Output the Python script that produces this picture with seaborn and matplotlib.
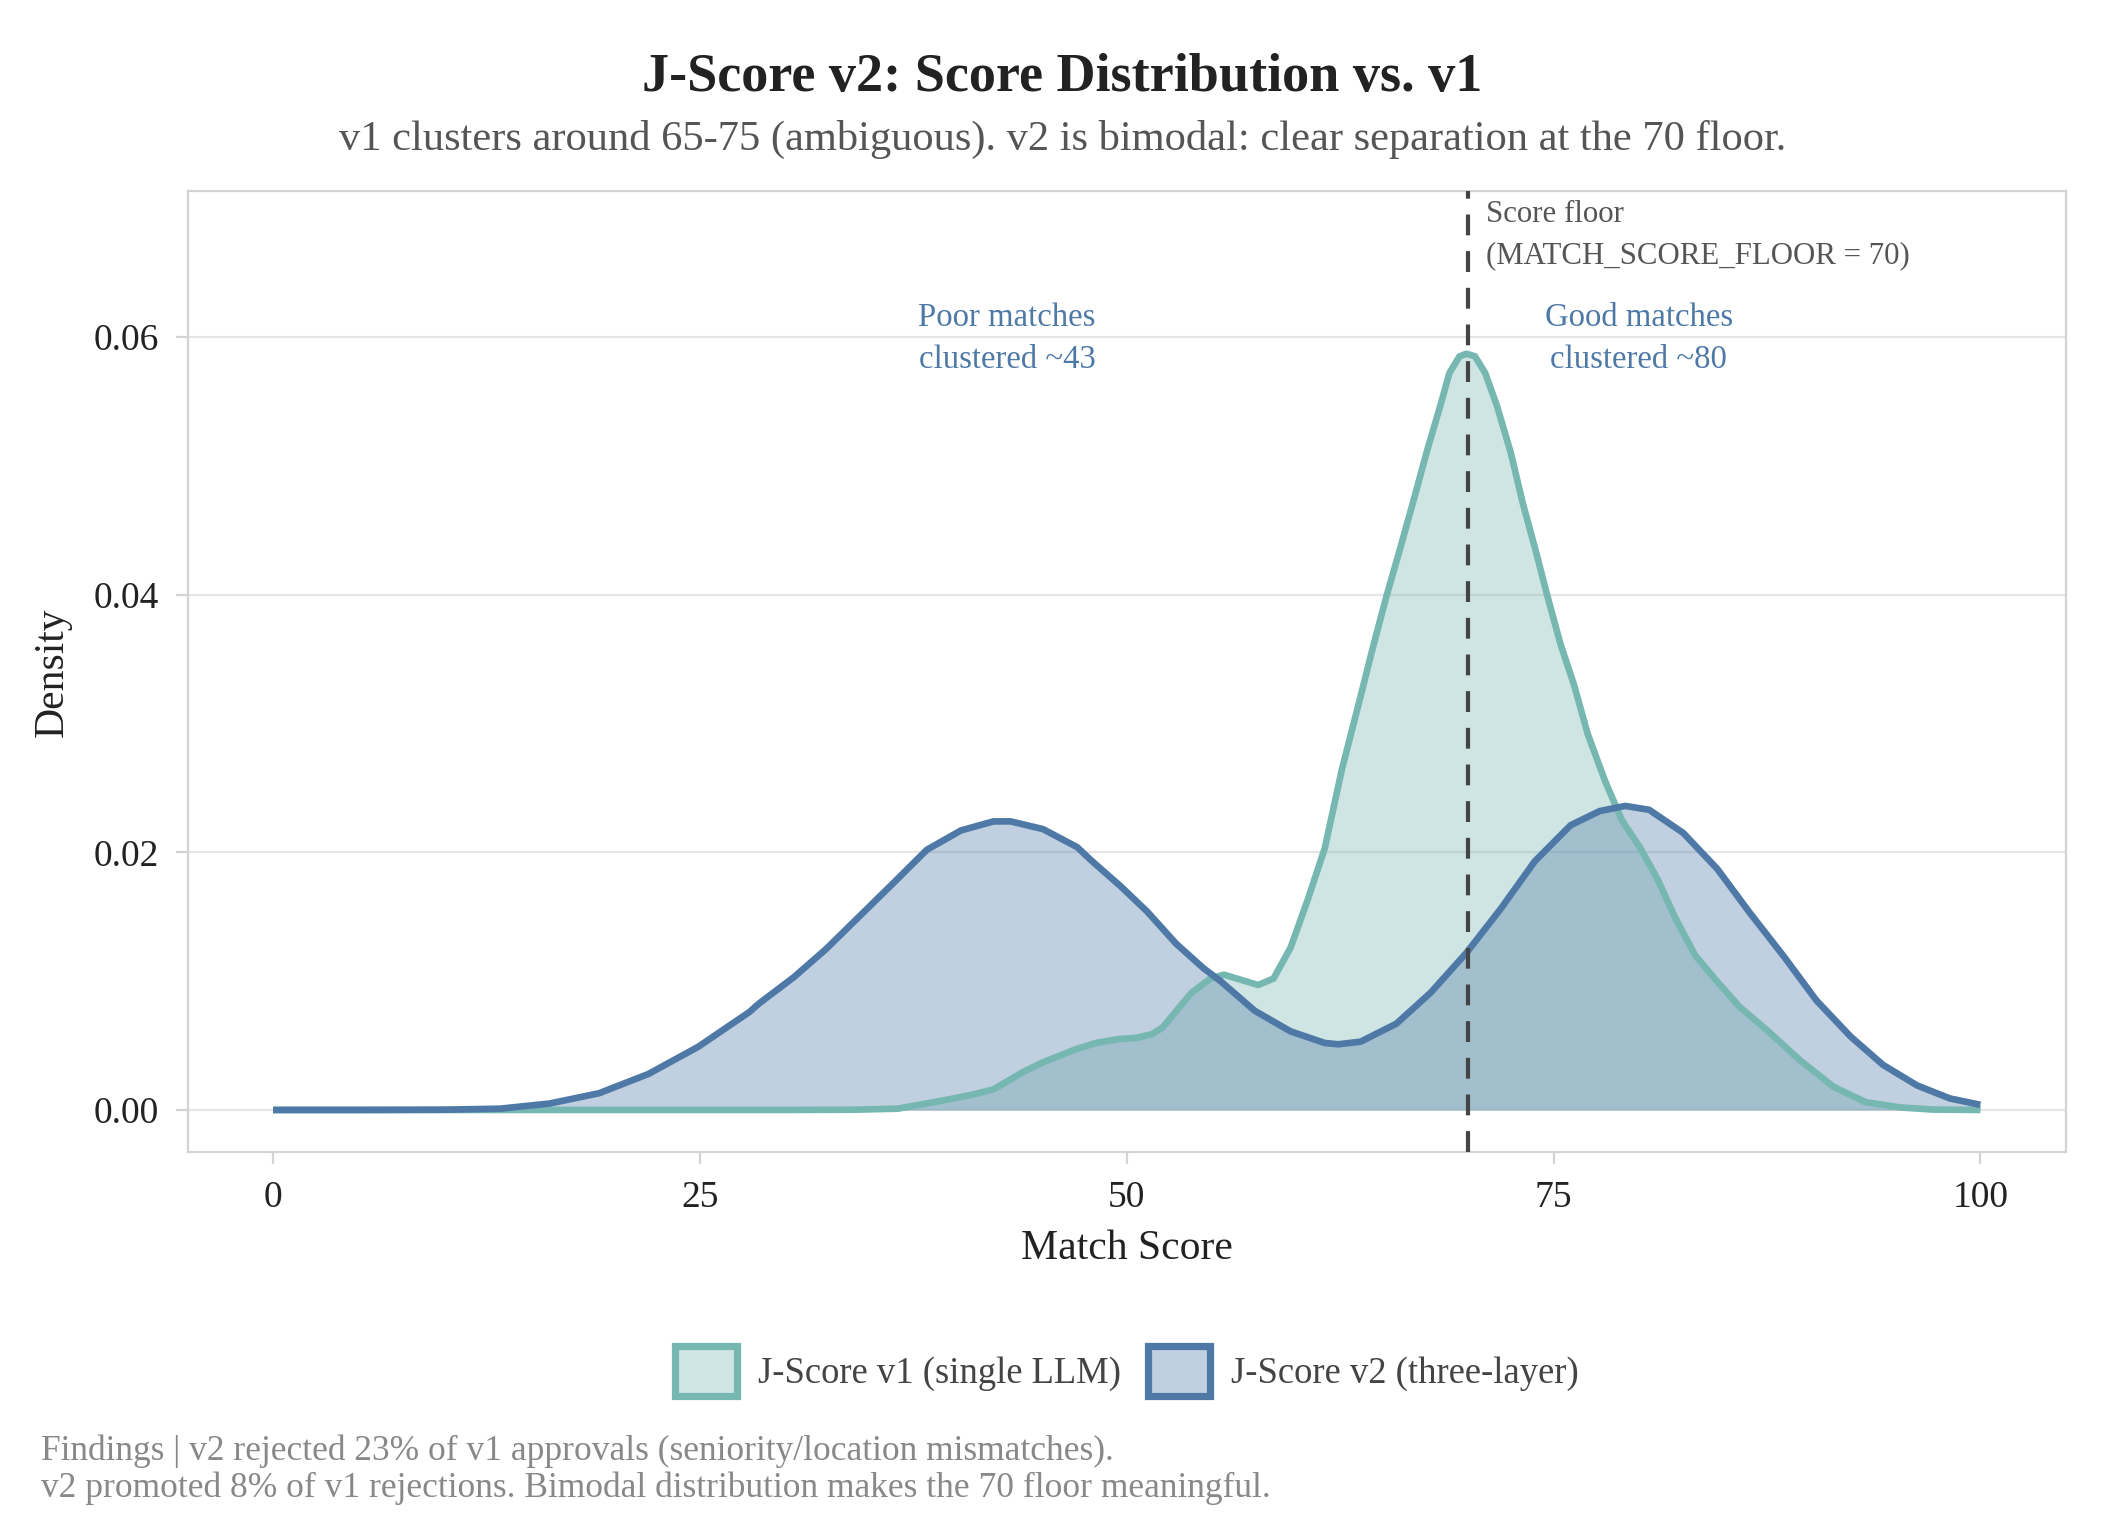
import numpy as np
import pandas as pd
import matplotlib
matplotlib.use("Agg")
import matplotlib.pyplot as plt
from matplotlib.patches import Patch
import seaborn as sns

# ---------------- data ----------------
v1_x = [0, 10, 20, 30, 34, 36.6, 39.5, 41.0, 42.2, 44.0, 45.1, 47.0, 48.2, 49.5, 50.6,
        51.5, 52.1, 53.1, 53.8, 54.9, 55.7, 56.7, 57.7, 58.6, 59.6, 60.6, 61.6, 62.6,
        63.7, 64.4, 65.2, 66.0, 66.8, 67.6, 68.4, 68.9, 69.5, 69.9, 70.4, 71.0, 71.7,
        72.5, 73.2, 74.0, 74.6, 75.4, 76.2, 77.0, 78.0, 79.0, 80.1, 81.1, 82.1, 83.3,
        84.5, 85.9, 87.5, 89.4, 91.4, 93.3, 95.3, 97.2, 100]
v1_density = [0, 0, 0, 0, 0.00002, 0.0001, 0.0008, 0.0012, 0.0016, 0.0030, 0.0037, 0.0047,
              0.0052, 0.0055, 0.0056, 0.0059, 0.0064, 0.0080, 0.0091, 0.0102, 0.0105,
              0.0101, 0.0097, 0.0102, 0.0126, 0.0163, 0.0203, 0.0264, 0.0321, 0.0358,
              0.0398, 0.0435, 0.0473, 0.0512, 0.0548, 0.0572, 0.0585, 0.0587, 0.0585,
              0.0572, 0.0546, 0.0510, 0.0471, 0.0432, 0.0401, 0.0362, 0.0330, 0.0292,
              0.0256, 0.0225, 0.0203, 0.0179, 0.0150, 0.0120, 0.0101, 0.0080, 0.0062,
              0.0039, 0.0018, 0.0006, 0.0002, 0.00003, 0]

v2_x = [0, 5, 10, 13.3, 16.2, 19.1, 22.0, 24.9, 27.9, 28.5, 30.5, 32.4, 34.4, 36.4,
        38.3, 40.3, 42.2, 43.2, 45.1, 47.1, 47.9, 49.7, 51.2, 52.9, 54.5, 55.5, 57.5,
        59.6, 61.6, 62.4, 63.7, 65.8, 67.8, 69.9, 71.9, 73.9, 76.0, 77.7, 79.2, 80.6,
        82.6, 84.6, 86.5, 88.5, 90.4, 92.4, 94.3, 96.3, 98.2, 100]
v2_density = [0, 0, 0.00002, 0.0001, 0.0005, 0.0013, 0.0028, 0.0049, 0.0076, 0.0083,
              0.0103, 0.0125, 0.0151, 0.0177, 0.0202, 0.0217, 0.0224, 0.0224, 0.0218,
              0.0204, 0.0194, 0.0173, 0.0154, 0.0129, 0.0110, 0.0100, 0.0077, 0.0061,
              0.0052, 0.0051, 0.0053, 0.0067, 0.0091, 0.0122, 0.0156, 0.0193, 0.0221,
              0.0232, 0.0236, 0.0233, 0.0215, 0.0187, 0.0153, 0.0119, 0.0085, 0.0057,
              0.0035, 0.0019, 0.0009, 0.0004]

series_labels = ["J-Score v1 (single LLM)", "J-Score v2 (three-layer)"]
x_ticks = [0, 25, 50, 75, 100]
y_ticks = [0.00, 0.02, 0.04, 0.06]
score_floor = 70

title = "J-Score v2: Score Distribution vs. v1"
subtitle = "v1 clusters around 65-75 (ambiguous). v2 is bimodal: clear separation at the 70 floor."
footer = ("Findings | v2 rejected 23% of v1 approvals (seniority/location mismatches).\n"
          "v2 promoted 8% of v1 rejections. Bimodal distribution makes the 70 floor meaningful.")

# ---------------- style ----------------
sns.set_theme(style="white")
FONT = ["Liberation Serif", "DejaVu Serif"]
plt.rcParams["font.family"] = FONT

TEAL = "#76b7b2"
BLUE = "#4e79a7"
ALPHA = 0.35

fig = plt.figure(figsize=(10.625, 7.675), dpi=200)
ax_left, ax_right, ax_bottom, ax_top = 0.0883, 0.9721, 0.2492, 0.8753
ax = fig.add_axes([ax_left, ax_bottom, ax_right - ax_left, ax_top - ax_bottom])

df1 = pd.DataFrame({"x": v1_x, "density": v1_density})
df2 = pd.DataFrame({"x": v2_x, "density": v2_density})

for df, col in [(df1, TEAL), (df2, BLUE)]:
    ax.fill_between(df["x"], 0, df["density"], color=col, alpha=ALPHA, lw=0)
    sns.lineplot(data=df, x="x", y="density", ax=ax, color=col, lw=2.4,
                 estimator=None, sort=False, solid_joinstyle="round",
                 solid_capstyle="butt")

ax.axvline(score_floor, color="#444444", lw=1.5, ls=(0, (5, 3.8)), zorder=5)

ax.set_xlim(-5, 105)
ax.set_ylim(-0.0033, 0.0713)
ax.set_xticks(x_ticks)
ax.set_xticklabels([str(t) for t in x_ticks])
ax.set_yticks(y_ticks)
ax.set_yticklabels([f"{t:.2f}" for t in y_ticks])
ax.grid(axis="y", color="#e5e5e5", lw=0.8)
ax.grid(axis="x", visible=False)
ax.set_axisbelow(True)
for sp in ax.spines.values():
    sp.set_visible(True)
    sp.set_color("#d3d3d3")
    sp.set_linewidth(0.8)
ax.tick_params(axis="both", which="major", length=4.2, width=0.8, color="#d3d3d3",
               labelsize=13.5, labelcolor="#222222", pad=6, bottom=True, left=True)

ax.set_xlabel("Match Score", fontsize=15, color="#222222", labelpad=5)
ax.set_ylabel("Density", fontsize=15, color="#222222", labelpad=8)

# annotations
ann_fs = 11.1
ax.text(71.05, 0.0695, "Score floor", fontsize=ann_fs, color="#555555", ha="left", va="center")
ax.text(71.05, 0.0663, "(MATCH_SCORE_FLOOR = 70)", fontsize=ann_fs, color="#555555",
        ha="left", va="center")
lab_fs = 11.8
ax.text(43, 0.0615, "Poor matches", fontsize=lab_fs, color=BLUE, ha="center", va="center")
ax.text(43, 0.0582, "clustered ~43", fontsize=lab_fs, color=BLUE, ha="center", va="center")
ax.text(80, 0.0615, "Good matches", fontsize=lab_fs, color=BLUE, ha="center", va="center")
ax.text(80, 0.0582, "clustered ~80", fontsize=lab_fs, color=BLUE, ha="center", va="center")

# titles
fig.text(0.5, 0.949, title, ha="center", va="center", fontsize=19.5, fontweight="bold",
         color="#222222")
fig.text(0.5, 0.909, subtitle, ha="center", va="center", fontsize=15.3, color="#555555")

# legend (centred under the panel)
handles = [Patch(facecolor=matplotlib.colors.to_rgba(TEAL, ALPHA), edgecolor=TEAL, lw=2.6),
           Patch(facecolor=matplotlib.colors.to_rgba(BLUE, ALPHA), edgecolor=BLUE, lw=2.6)]
fig.legend(handles, series_labels, loc="center",
           bbox_to_anchor=((ax_left + ax_right) / 2, 0.107), ncol=2,
           frameon=False, fontsize=13.2, handlelength=1.7, handleheight=1.7,
           handletextpad=0.55, columnspacing=0.75, labelcolor="#444444")

# footer
fig.text(0.0193, 0.0425, footer, ha="left", va="center", fontsize=12.75, color="#888888",
         linespacing=1.1)

fig.savefig("out.png", dpi=200)
